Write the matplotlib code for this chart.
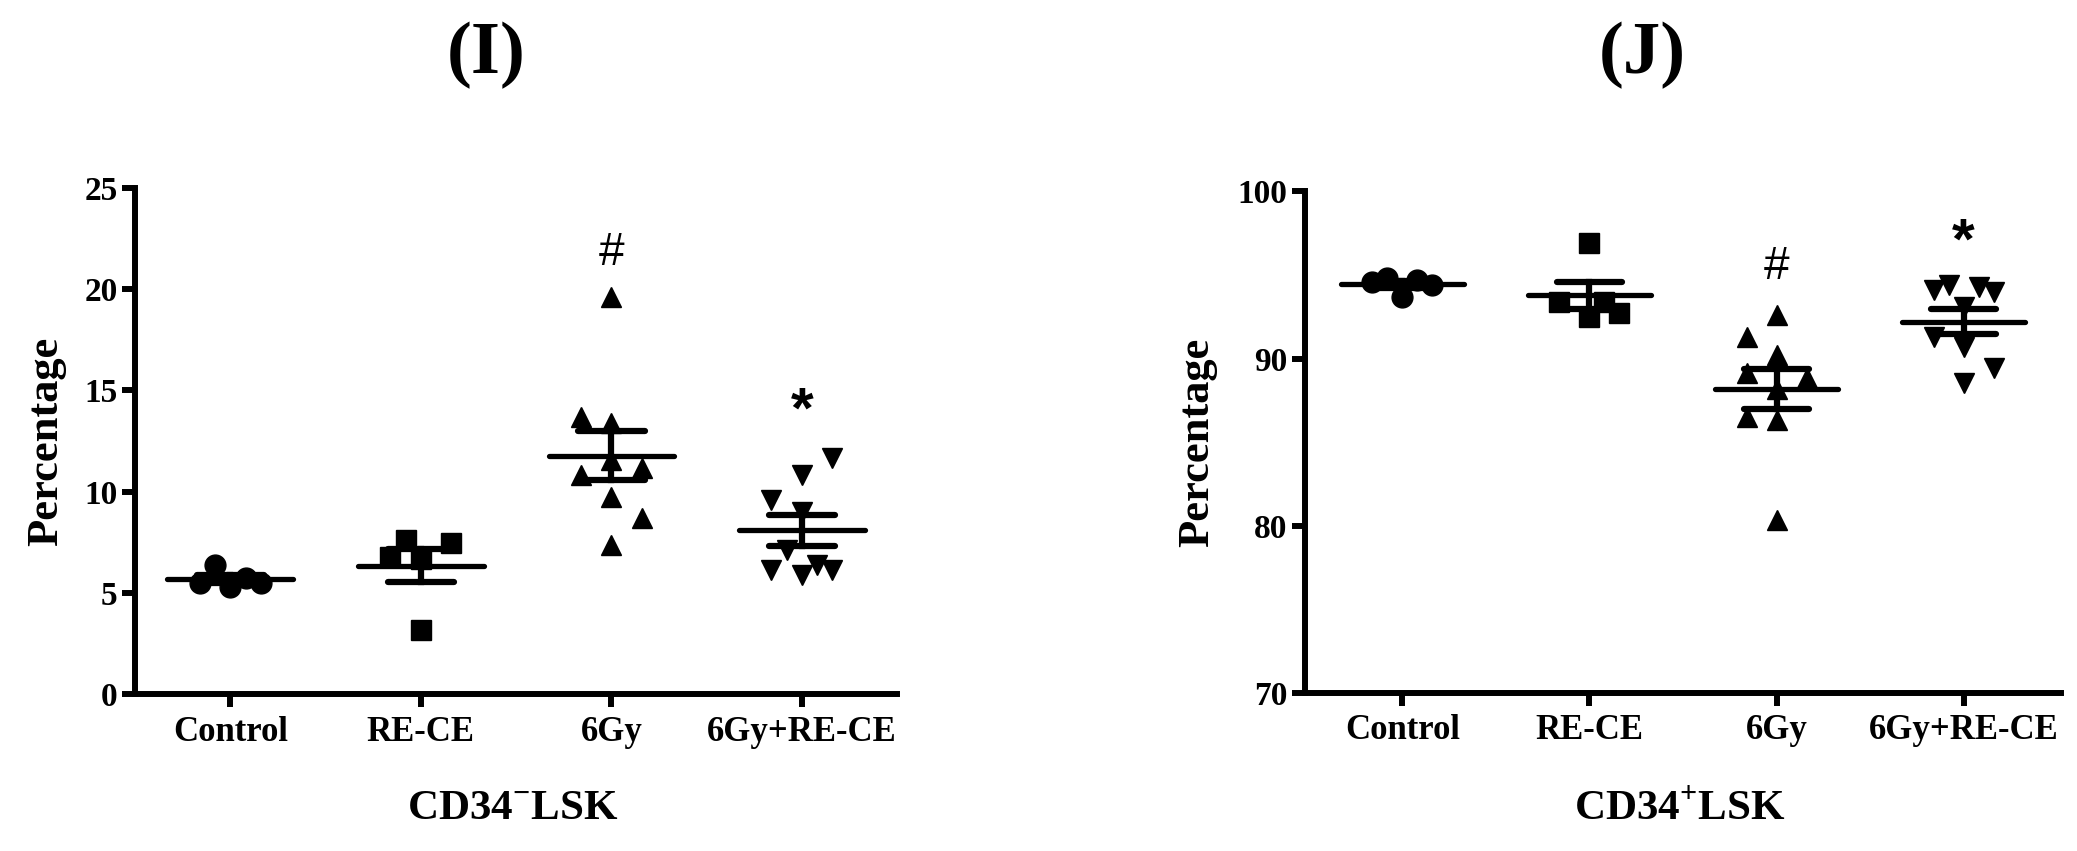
import numpy as np
import matplotlib
matplotlib.use("Agg")
from matplotlib import pyplot as plt

plt.rcParams['font.family'] = ['Liberation Serif', 'DejaVu Serif']
plt.rcParams['mathtext.fontset'] = 'custom'
plt.rcParams['mathtext.rm'] = 'Liberation Serif'
plt.rcParams['mathtext.bf'] = 'Liberation Serif:bold'

groups = ['Control', 'RE-CE', '6Gy', '6Gy+RE-CE']
markers = ['o', 's', '^', 'v']

# panel I: CD34- LSK (percentage)
i_vals = [
    [5.47, 6.38, 5.30, 5.72, 5.47],
    [6.77, 7.61, 6.67, 3.16, 7.48],
    [19.6, 13.7, 13.38, 10.83, 11.57, 11.16, 9.75, 8.68, 7.37],
    [11.65, 10.83, 9.59, 9.01, 7.12, 6.13, 5.88, 6.38, 6.13],
]
# panel J: CD34+ LSK (percentage)
j_vals = [
    [94.61, 94.81, 93.71, 94.71, 94.41],
    [93.41, 96.90, 92.51, 93.39, 92.71],
    [92.61, 91.32, 90.22, 89.13, 88.83, 88.17, 86.53, 86.33, 80.35],
    [94.11, 94.41, 94.31, 94.01, 93.11, 91.32, 90.72, 89.43, 88.53],
]

# scatter column of each point (layout only)
i_cols = [
    [-2, -1, 0, 1, 2],
    [-2, -1, 0, 0, 2],
    [0, -2, 0, -2, 0, 2, 0, 2, 0],
    [2, 0, -2, 0, -1, -2, 0, 1, 2],
]
j_cols = [
    [-2, -1, 0, 1, 2],
    [-2, 0, 0, 1, 2],
    [0, -2, 0, -2, 2, 0, -2, 0, 0],
    [-2, -1, 1, 2, 0, -2, 0, 2, 0],
]

i_ticks = [0, 5, 10, 15, 20, 25]
j_ticks = [70, 80, 90, 100]

i_marks = {'#': (3, 21.8), '*': (4, 13.9)}
j_marks = {'#': (3, 95.5), '*': (4, 96.9)}


def draw_panel(ax, vals, cols, ylim, yticks, marks):
    for k, (v, c) in enumerate(zip(vals, cols)):
        xc = k + 1
        v = np.array(v)
        xs = xc + 0.08 * np.array(c)
        ax.plot(xs, v, linestyle='none', marker=markers[k], ms=15,
                color='black', clip_on=False, zorder=3)
        m = v.mean()
        sem = v.std(ddof=1) / np.sqrt(len(v))
        ax.plot([xc - 0.33, xc + 0.33], [m, m], color='black', lw=3.8,
                solid_capstyle='round', zorder=4)
        ax.plot([xc, xc], [m - sem, m + sem], color='black', lw=4.5, zorder=4)
        for e in (m - sem, m + sem):
            ax.plot([xc - 0.175, xc + 0.175], [e, e], color='black', lw=4.5,
                    solid_capstyle='round', zorder=4)
    for sym, (xm, ym) in marks.items():
        ax.text(xm, ym, sym, ha='center', va='center',
                fontsize=42 if sym == '*' else 33,
                family='Liberation Sans', fontweight='bold' if sym == '*' else 'normal')
    ax.set_ylim(*ylim)
    ax.set_yticks(yticks)
    ax.set_xticks(range(1, 5))
    ax.set_xticklabels(groups)
    for s in ['top', 'right']:
        ax.spines[s].set_visible(False)
    for s in ['left', 'bottom']:
        ax.spines[s].set_linewidth(4.3)
    ax.tick_params(axis='x', length=9.5, width=4.3, pad=6, labelsize=25)
    ax.tick_params(axis='y', length=9.5, width=4.3, pad=3, labelsize=24)
    for lab in ax.get_xticklabels() + ax.get_yticklabels():
        lab.set_fontweight('bold')


fig = plt.figure(figsize=(20.77, 8.51), dpi=100)
ax1 = fig.add_axes([0.065, 0.1845, 0.367, 0.5945])
ax2 = fig.add_axes([0.6283, 0.1857, 0.364, 0.5893])

draw_panel(ax1, i_vals, i_cols, (0, 25), i_ticks, i_marks)
ax1.set_xlim(0.5, 4.5)
draw_panel(ax2, j_vals, j_cols, (70, 100), j_ticks, j_marks)
ax2.set_xlim(0.48, 4.52)

fig.text(486 / 2077, 1 - 55 / 851, '(I)', ha='center', va='center', fontsize=54, fontweight='bold')
fig.text(1642 / 2077, 1 - 55 / 851, '(J)', ha='center', va='center', fontsize=54, fontweight='bold')

fig.text(46 / 2077, 1 - 441 / 851, 'Percentage', rotation=90, ha='center', va='center',
         fontsize=32, fontweight='bold')
fig.text(1197 / 2077, 1 - 442 / 851, 'Percentage', rotation=90, ha='center', va='center',
         fontsize=32, fontweight='bold')

fig.text(513 / 2077, 1 - 809 / 851, r'CD34$^{\mathbf{-}}$LSK', ha='center', va='center',
         fontsize=31, fontweight='bold')
fig.text(1680 / 2077, 1 - 810 / 851, r'CD34$^{\mathbf{+}}$LSK', ha='center', va='center',
         fontsize=31, fontweight='bold')

fig.savefig('out.png', dpi=100)
